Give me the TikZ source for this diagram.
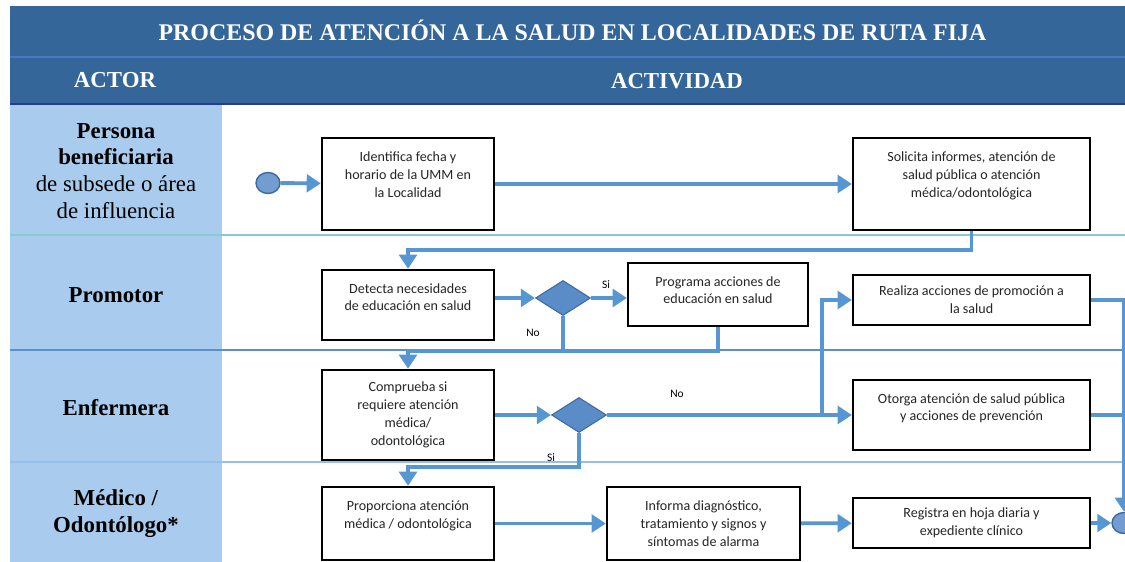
\documentclass[tikz,border=0pt]{standalone}
\usepackage{fontspec}
\setmainfont{Liberation Serif}
\newfontfamily\boxfont{Carlito}
\usetikzlibrary{shapes.geometric}
\usetikzlibrary{arrows.meta}
\definecolor{headblue}{RGB}{52,102,153}
\definecolor{headline}{RGB}{70,120,200}
\definecolor{headbottom}{RGB}{40,60,150}
\definecolor{laneblue}{RGB}{169,204,238}
\definecolor{flowblue}{RGB}{86,150,210}
\definecolor{decfill}{RGB}{90,140,200}
\definecolor{decdraw}{RGB}{60,105,160}
\definecolor{septeal}{RGB}{140,200,210}
\definecolor{sepblue}{RGB}{90,145,205}
\definecolor{seplight}{RGB}{150,192,232}
\tikzstyle{actbox} = [rectangle, draw=black, line width=1.4pt, fill=white, align=center, inner sep=2pt, text=black!85, font=\boxfont\fontsize{8}{10.2}\selectfont]
\tikzstyle{decision} = [diamond, draw=decdraw, fill=decfill, line width=0.6pt, minimum width=1.1cm, minimum height=0.7cm, inner sep=0pt]
\tikzstyle{terminal} = [ellipse, draw=decdraw, fill=decfill!85!white, line width=0.8pt, minimum width=0.48cm, minimum height=0.42cm, inner sep=0pt]
\tikzstyle{arrow} = [line width=2.2pt, draw=flowblue, -{Triangle[length=8pt,width=10pt]}]
\tikzstyle{flowline} = [line width=2.2pt, draw=flowblue]
\tikzstyle{actor} = [align=center, font=\fontsize{13}{15.3}\selectfont]
\tikzstyle{heading} = [text=white, font=\bfseries\fontsize{13}{15}\selectfont]
\tikzstyle{answer} = [font=\boxfont\fontsize{6.5}{8}\selectfont]
\tikzset{lift/.style={execute at end node={\rule[-#1]{0pt}{0pt}}}}

\begin{document}
\begin{tikzpicture}
\useasboundingbox (0,0) rectangle (22.5,-11.24);

% header and lanes
\fill [headblue] (0.2,-0.12) rectangle (22.5,-2.08);
\draw [headline, line width=1pt] (0.2,-1.14) -- (22.5,-1.14);
\draw [headbottom, line width=1.6pt] (0.2,-2.08) -- (22.5,-2.08);
\fill [laneblue] (0.2,-2.1) rectangle (4.44,-11.3);
\draw [septeal, line width=0.8pt] (0.2,-4.70) -- (22.5,-4.70);
\draw [sepblue, line width=0.8pt] (0.2,-7.00) -- (22.5,-7.00);
\draw [seplight, line width=1.4pt] (0.2,-9.24) -- (22.5,-9.24);

\node (title) [heading, font=\bfseries\fontsize{13.6}{15}\selectfont] at (11.45,-0.60) {PROCESO DE ATENCIÓN A LA SALUD EN LOCALIDADES DE RUTA FIJA};
\node (actorhead) [heading] at (2.30,-1.60) {ACTOR};
\node (acthead) [heading] at (13.54,-1.62) {ACTIVIDAD};

\node (persona) [actor] at (2.32,-3.42) {\textbf{Persona}\\\textbf{beneficiaria}\\de subsede o área\\de influencia};
\node (promotor) [actor] at (2.32,-5.90) {\textbf{Promotor}};
\node (enfermera) [actor] at (2.32,-8.16) {\textbf{Enfermera}};
\node (medico) [actor] at (2.32,-10.28) {\textbf{Médico /}\\\textbf{Odontólogo*}};

% activities
\node (inicio) [terminal] at (5.36,-3.66) {};
\node (identifica) [actbox, lift=11pt, minimum width=3.44cm, minimum height=1.84cm] at (8.16,-3.68) {Identifica fecha y\\horario de la UMM en\\la Localidad};
\node (solicita) [actbox, lift=11pt, minimum width=4.74cm, minimum height=1.84cm] at (19.43,-3.68) {Solicita informes, atención de\\salud pública o atención\\médica/odontológica};
\node (detecta) [actbox, lift=9pt, minimum width=3.44cm, minimum height=1.4cm] at (8.16,-6.10) {Detecta necesidades\\de educación en salud};
\node (dec1) [decision] at (11.26,-5.96) {};
\node (programa) [actbox, lift=5pt, minimum width=3.6cm, minimum height=1.26cm] at (14.36,-5.89) {Programa acciones de\\educación en salud};
\node (realiza) [actbox, minimum width=4.74cm, minimum height=1.0cm] at (19.43,-6.0) {Realiza acciones de promoción a\\la salud};
\node (comprueba) [actbox, minimum width=3.44cm, minimum height=1.8cm] at (8.16,-8.30) {Comprueba si\\requiere atención\\médica/\\odontológica};
\node (dec2) [decision] at (11.58,-8.30) {};
\node (otorga) [actbox, lift=9pt, minimum width=4.74cm, minimum height=1.4cm] at (19.43,-8.30) {Otorga atención de salud pública\\y acciones de prevención};
\node (proporciona) [actbox, lift=10pt, minimum width=3.44cm, minimum height=1.46cm] at (8.16,-10.47) {Proporciona atención\\médica / odontológica};
\node (informa) [actbox, minimum width=3.86cm, minimum height=1.46cm] at (14.07,-10.47) {Informa diagnóstico,\\tratamiento y signos y\\síntomas de alarma};
\node (registra) [actbox, minimum width=4.74cm, minimum height=1.0cm] at (19.43,-10.46) {Registra en hoja diaria y\\expediente clínico};
\node (fin) [terminal] at (22.48,-10.46) {};

\node (si1) [answer] at (12.12,-5.70) {Si};
\node (no1) [answer] at (10.66,-6.66) {No};
\node (no2) [answer] at (13.54,-7.88) {No};
\node (si2) [answer] at (11.02,-9.16) {Si};

\coordinate (join1) at (0,-5.0);
\coordinate (join2) at (0,-7.02);
\coordinate (join3) at (0,-9.34);
\coordinate (split) at (16.44,-8.30);

\draw [arrow] (inicio) -- (identifica);
\draw [arrow] (identifica) -- (solicita);
\draw [arrow] (solicita.south) -- (solicita.south |- join1) -| (detecta.north);
\draw [arrow] (detecta.east |- dec1.west) -- (dec1.west);
\draw [arrow] (dec1.east) -- (programa.west |- dec1.east);
\draw [arrow] (dec1.south) -- (dec1.south |- join2) -| (comprueba.north);
\draw [flowline] (programa.south) -- (programa.south |- join2) -- (dec1.south |- join2);
\draw [arrow] (comprueba.east |- dec2.west) -- (dec2.west);
\draw [arrow] (dec2.east) -- (otorga.west);
\draw [arrow] (split) |- (realiza.west);
\draw [arrow] (dec2.south) -- (dec2.south |- join3) -| (proporciona.north);
\draw [arrow] (proporciona) -- (informa);
\draw [arrow] (informa) -- (registra);
\draw [arrow] (registra) -- (fin);
\draw [arrow] (realiza.east) -| (fin.north);
\draw [flowline] (otorga.east) -- (otorga.east -| fin.north);

\end{tikzpicture}
\end{document}
